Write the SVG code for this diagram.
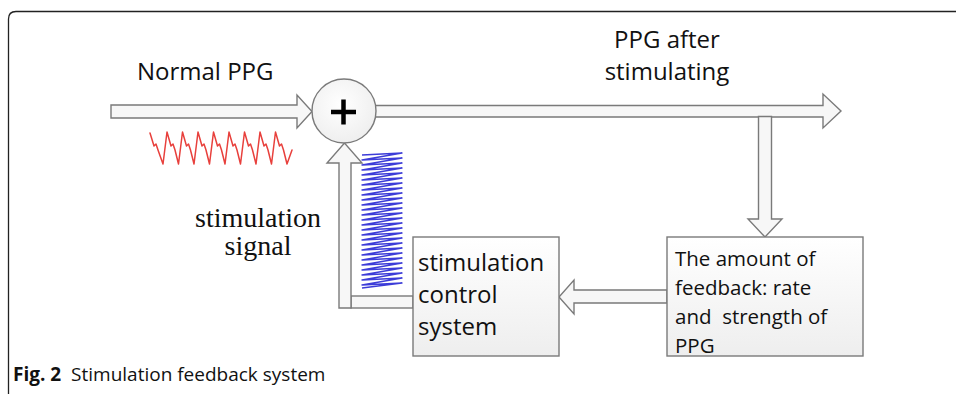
<svg xmlns="http://www.w3.org/2000/svg" width="956" height="394" viewBox="0 0 956 394">
<style>
.sans{font-family:"Open Sans","Liberation Sans",sans-serif;fill:#111}
.serif{font-family:"Liberation Serif","Times New Roman",serif;fill:#111}
.arrow{fill:#f7f7f7;stroke:#7a7a7a;stroke-width:1.4;stroke-linejoin:miter}
.box{fill:url(#boxg);stroke:#7a7a7a;stroke-width:1.4}
</style>
<defs>
<linearGradient id="boxg" x1="0" y1="0" x2="0" y2="1">
<stop offset="0" stop-color="#ffffff"/>
<stop offset="1" stop-color="#eeeeee"/>
</linearGradient>
<radialGradient id="circg" cx="0.45" cy="0.4" r="0.7">
<stop offset="0" stop-color="#ffffff"/>
<stop offset="1" stop-color="#ececec"/>
</radialGradient>
</defs>
<rect width="956" height="394" fill="#ffffff"/>
<path d="M8.5,394 V19 Q8.5,11.5 16,11.5 H956" fill="none" stroke="#222" stroke-width="1.3"/>

<g id="connectors">
<polygon class="arrow" points="111,105 297,105 297,95 312,111.5 297,128 297,118 111,118"/>
<polygon class="arrow" points="370,105.5 823,105.5 823,94 841,111 823,128 823,117 370,117"/>
<polygon class="arrow" points="758.5,116.5 771.5,116.5 771.5,219 782,219 765,237 748,219 758.5,219"/>
<polygon class="arrow" points="667,290 574,290 574,280 559,297 574,314 574,303 667,303"/>
<rect class="arrow" x="351" y="296" width="62" height="12"/>
<polygon class="arrow" points="339,308 339,163 327,163 344.5,143 362,163 351,163 351,308"/>
</g>

<g id="wave-ppg">
<polyline fill="none" stroke="#e8403c" stroke-width="1.5" stroke-linejoin="round" stroke-linecap="round" points="150,133 154,146 156,144 158,150 163,164 167,132 171,146 173,144 175,150 178.5,164 182.5,132 186.5,146 188.5,144 190.5,150 194,164 198,132 202,146 204,144 206,150 209.5,164 213.5,132 217.5,146 219.5,144 221.5,150 225,164 229,132 233,146 235,144 237,150 240.5,164 244.5,132 248.5,146 250.5,144 252.5,150 256,164 260,132 264,146 266,144 268,150 271.5,164 275.5,132 279.5,146 281.5,144 283.5,150 287,164 292,150"/>
</g>

<g id="wave-stim">
<polyline fill="none" stroke="#3c3cd8" stroke-width="1.4" stroke-linejoin="round" points="362,155 402,153 362,160 402,158 362,165 402,163 362,170 402,168 362,175 402,173 362,180 402,178 362,185 402,183 362,190 402,188 362,195 402,193 362,200 402,198 362,205 402,203 362,210 402,208 362,215 402,213 362,220 402,218 362,225 402,223 362,230 402,228 362,235 402,233 362,240 402,238 362,245 402,243 362,250 402,248 362,255 402,253 362,260 402,258 362,265 402,263 362,270 402,268 362,275 402,273 362,280 402,278 362,285 402,283 362,288"/>
</g>

<g id="sum">
<circle cx="344" cy="111" r="32" fill="url(#circg)" stroke="#7a7a7a" stroke-width="1.4"/>
<path d="M331,112 H356 M343.5,99.5 V124.5" stroke="#000" stroke-width="4.5" fill="none"/>
</g>

<g id="control">
<rect class="box" x="413" y="237" width="146" height="119"/>
<text class="sans" font-size="24" x="418" y="271">stimulation</text>
<text class="sans" font-size="24" x="418" y="303">control</text>
<text class="sans" font-size="24" x="418" y="335">system</text>
</g>

<g id="feedback">
<rect class="box" x="667" y="237" width="196" height="119"/>
<text class="sans" font-size="20.5" x="675" y="266">The amount of</text>
<text class="sans" font-size="20.5" x="675" y="295">feedback: rate</text>
<text class="sans" font-size="20.5" x="675" y="323.5">and&#160; strength of</text>
<text class="sans" font-size="20.5" x="675" y="352.5">PPG</text>
</g>

<g id="labels">
<text class="sans" font-size="24" x="137" y="80">Normal PPG</text>
<text class="sans" font-size="24" x="667" y="48" text-anchor="middle">PPG after</text>
<text class="sans" font-size="24" x="667" y="80" text-anchor="middle">stimulating</text>
<text class="serif" font-size="28" x="258" y="227" text-anchor="middle">stimulation</text>
<text class="serif" font-size="28" x="258" y="255" text-anchor="middle">signal</text>
</g>

<g id="caption">
<text class="sans" font-size="19" x="13" y="381"><tspan font-weight="bold">Fig. 2</tspan>&#160; Stimulation feedback system</text>
</g>
</svg>
